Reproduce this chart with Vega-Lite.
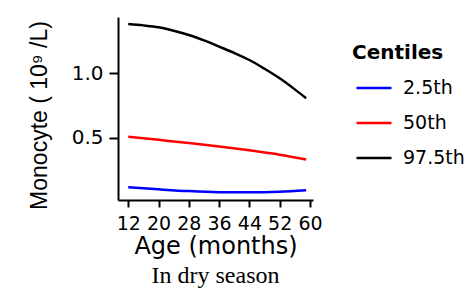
{
  "$schema": "https://vega.github.io/schema/vega-lite/v6.json",
  "width": 195,
  "height": 183,
  "autosize": "none",
  "padding": {"left": 118, "top": 17, "right": 155, "bottom": 94},
  "background": "white",
  "title": {"text": "In dry season", "orient": "bottom", "anchor": "middle", "font": "Liberation Serif", "fontSize": 24, "fontWeight": "normal", "color": "black", "offset": 6},
  "config": {"view": {"stroke": null}},
  "data": {"values": [
    {"age": 12, "value": 1.383, "centile": "97.5th"},
    {"age": 16, "value": 1.372, "centile": "97.5th"},
    {"age": 20, "value": 1.357, "centile": "97.5th"},
    {"age": 24, "value": 1.330, "centile": "97.5th"},
    {"age": 28, "value": 1.297, "centile": "97.5th"},
    {"age": 32, "value": 1.255, "centile": "97.5th"},
    {"age": 36, "value": 1.207, "centile": "97.5th"},
    {"age": 40, "value": 1.158, "centile": "97.5th"},
    {"age": 44, "value": 1.103, "centile": "97.5th"},
    {"age": 48, "value": 1.035, "centile": "97.5th"},
    {"age": 52, "value": 0.961, "centile": "97.5th"},
    {"age": 56, "value": 0.875, "centile": "97.5th"},
    {"age": 59, "value": 0.806, "centile": "97.5th"},
    {"age": 12, "value": 0.508, "centile": "50th"},
    {"age": 20, "value": 0.483, "centile": "50th"},
    {"age": 28, "value": 0.458, "centile": "50th"},
    {"age": 36, "value": 0.432, "centile": "50th"},
    {"age": 44, "value": 0.402, "centile": "50th"},
    {"age": 52, "value": 0.368, "centile": "50th"},
    {"age": 59, "value": 0.330, "centile": "50th"},
    {"age": 12, "value": 0.115, "centile": "2.5th"},
    {"age": 20, "value": 0.099, "centile": "2.5th"},
    {"age": 28, "value": 0.085, "centile": "2.5th"},
    {"age": 36, "value": 0.077, "centile": "2.5th"},
    {"age": 44, "value": 0.076, "centile": "2.5th"},
    {"age": 52, "value": 0.081, "centile": "2.5th"},
    {"age": 59, "value": 0.092, "centile": "2.5th"}
  ]},
  "mark": {"type": "line", "strokeWidth": 2.5, "interpolate": "monotone"},
  "encoding": {
    "x": {
      "field": "age", "type": "quantitative",
      "scale": {"domain": [9.3, 60.8], "nice": false, "zero": false},
      "axis": {
        "values": [12, 20, 28, 36, 44, 52, 60],
        "grid": false, "domainColor": "black", "domainWidth": 2, "tickColor": "black", "tickWidth": 2, "tickSize": 7,
        "labelFont": "DejaVu Sans", "labelFontSize": 19, "labelColor": "black", "labelPadding": 7, "labelFlush": false,
        "title": "Age (months)", "titleFont": "DejaVu Sans", "titleFontSize": 24, "titleFontWeight": "normal", "titleColor": "black", "titlePadding": 1
      }
    },
    "y": {
      "field": "value", "type": "quantitative",
      "scale": {"domain": [0.016, 1.437], "nice": false, "zero": false},
      "axis": {
        "values": [0.5, 1.0], "format": ".1f",
        "grid": false, "domainColor": "black", "domainWidth": 2, "tickColor": "black", "tickWidth": 2, "tickSize": 9,
        "labelFont": "DejaVu Sans", "labelFontSize": 20, "labelColor": "black", "labelPadding": 6,
        "title": "Monocyte ( 10⁹ /L)", "titleFont": "Liberation Sans", "titleFontSize": 23, "titleFontWeight": "normal", "titleColor": "black", "titlePadding": 20, "titleY": 98
      }
    },
    "color": {
      "field": "centile", "type": "nominal",
      "scale": {"domain": ["2.5th", "50th", "97.5th"], "range": ["#0000FF", "#FF0000", "#000000"]},
      "legend": {
        "title": "Centiles", "orient": "none", "legendX": 234, "legendY": 26,
        "titleFont": "DejaVu Sans", "titleFontSize": 20, "titleFontWeight": "bold", "titleColor": "black", "titlePadding": 6,
        "labelFont": "DejaVu Sans", "labelFontSize": 19, "labelColor": "black", "labelOffset": 10,
        "symbolType": "stroke", "symbolSize": 1225, "symbolStrokeWidth": 2.5, "symbolOffset": 3,
        "rowPadding": 6, "padding": 0
      }
    }
  }
}
